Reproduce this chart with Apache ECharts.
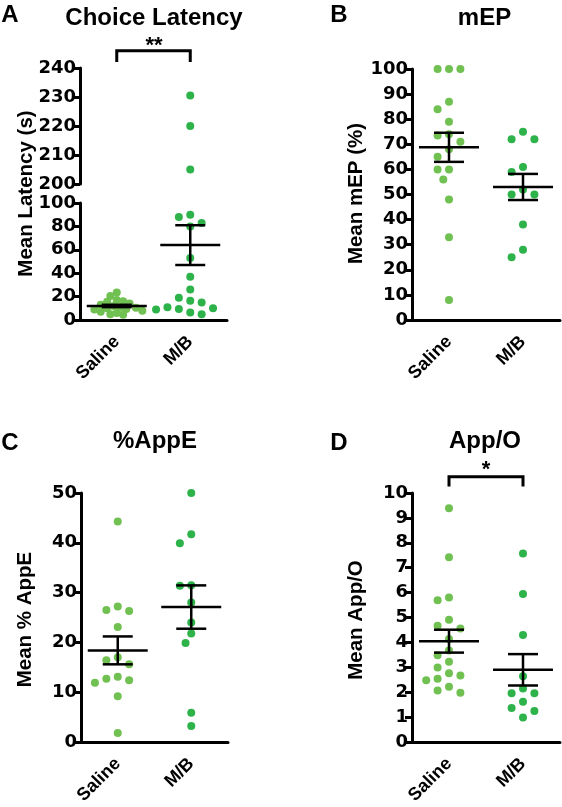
<!DOCTYPE html>
<html><head><meta charset="utf-8">
<script src="https://cdn.jsdelivr.net/npm/echarts@6/dist/echarts.min.js"></script>
<style>html,body{margin:0;padding:0;background:#fff}#c{width:562px;height:807px}</style>
</head><body><div id="c"></div><script>
// ---------- data ----------
const categories = ['Saline', 'M/B'];

// A: Choice Latency (s)
const latencySaline = [23.5, 20.5, 17, 16, 15.5, 14, 13, 12, 11, 10.5, 10, 9.5, 9, 8, 7, 6, 5, 4.5];
const latencyMB = [230.5, 220, 205, 90, 88, 83, 80, 53, 37, 26, 19, 16.5, 15, 10, 9, 5, 6.5, 9.5, 11];
const latencyMean = [12, 64];
const latencySem = [1, 17];
const latencyUpperTicks = [200, 240, 10];
const latencyLowerTicks = [0, 100, 20];

// B: mEP (%)
const mepSaline = [100, 100, 100, 87, 84, 79, 73.5, 74, 71, 68, 65, 60, 60, 56, 48, 33, 8];
const mepMB = [75, 72, 72, 61, 59, 52, 50, 50, 38, 28, 25];
const mepMean = [68.8, 53];
const mepSem = [5.8, 5.2];
const mepTicks = [0, 100, 10];

// C: %AppE
const appeSaline = [44.3, 26.5, 26.3, 27.2, 23.1, 16.4, 15.6, 17.0, 12.7, 11.9, 12.4, 13.1, 9.2, 1.8];
const appeMB = [50, 41.7, 39.9, 31.5, 31.4, 28.0, 24.0, 21.8, 19.9, 5.9, 3.2];
const appeMean = [18.4, 27.1];
const appeSem = [2.8, 4.35];
const appeTicks = [0, 50, 10];

// D: App/O
const appoSaline = [9.39, 7.42, 5.69, 5.8, 4.91, 4.67, 4.56, 4.14, 3.68, 3.48, 3.22, 2.99, 2.76, 2.54, 2.48, 2.67, 2.22, 1.98, 2.07];
const appoMB = [7.57, 5.94, 4.30, 2.64, 2.15, 1.96, 1.96, 1.62, 1.37, 1.25, 0.98];
const appoMean = [4.05, 2.9];
const appoSem = [0.46, 0.63];
const appoTicks = [0, 10, 1];

// ---------- style ----------
const TICK_FONT = 'DejaVu Sans';
const TEXT_FONT = 'Liberation Sans';
const SAL = '#70c152';
const MBC = '#2eb34b';
const LW = 3;

const grids = [
  {left: 80, top: 68, width: 147, height: 116},   // A upper
  {left: 80, top: 203, width: 147, height: 117},  // A lower
  {left: 412, top: 69, width: 148, height: 251},  // B
  {left: 81, top: 493, width: 147, height: 251},  // C
  {left: 412, top: 493, width: 148, height: 251}  // D
];
const yTicks = [latencyUpperTicks, latencyLowerTicks, mepTicks, appeTicks, appoTicks];

const chart = echarts.init(document.getElementById('c'), null, {renderer: 'canvas'});

// beeswarm layout (computed in pixel space, converted back to x units)
function swarm(values, center, gi, D, step) {
  const g = grids[gi], t = yTicks[gi];
  const pxPerY = g.height / (t[1] - t[0]);
  const pxPerX = g.width / 2;
  const sorted = values.slice().sort((a, b) => b - a);
  const placed = [], out = [];
  for (const v of sorted) {
    const py = v * pxPerY;
    for (let k = 0; k < 200; k++) {
      const m = k === 0 ? 0 : (k % 2 === 1 ? -Math.ceil(k / 2) : Math.ceil(k / 2));
      const dx = m * step;
      if (placed.every(p => (p.dx - dx) ** 2 + (p.py - py) ** 2 >= D * D)) {
        placed.push({dx, py});
        out.push([center + dx / pxPerX, v]);
        break;
      }
    }
  }
  return out;
}

const xAxes = [], yAxes = [];
grids.forEach((g, i) => {
  xAxes.push({
    type: 'category', gridIndex: i, data: categories, show: i !== 0,
    boundaryGap: true,
    axisLine: {lineStyle: {color: '#000', width: LW}},
    axisTick: {alignWithLabel: true, length: 7, lineStyle: {color: '#000', width: LW}},
    axisLabel: {rotate: 45, margin: 19, color: '#000', fontFamily: TEXT_FONT, fontWeight: 'bold', fontSize: 18},
    splitLine: {show: false}
  });
  xAxes.push({type: 'value', gridIndex: i, min: 0.5, max: 2.5, show: false});
  const t = yTicks[i];
  yAxes.push({
    type: 'value', gridIndex: i, min: t[0], max: t[1], interval: t[2],
    axisLine: {show: true, lineStyle: {color: '#000', width: LW}},
    axisTick: {show: true, length: 7, lineStyle: {color: '#000', width: LW}},
    axisLabel: {margin: 4, color: '#000', fontFamily: TICK_FONT, fontWeight: 'bold', fontSize: 18},
    splitLine: {show: false}
  });
});

function scatter(gi, data, color) {
  return {
    type: 'scatter', xAxisIndex: gi * 2 + 1, yAxisIndex: gi, data: data,
    symbol: 'circle', symbolSize: 8, itemStyle: {color: color, opacity: 1}, z: 2, silent: true
  };
}
function errorBars(gi, mean, sem) {
  return {
    type: 'custom', xAxisIndex: gi * 2 + 1, yAxisIndex: gi, z: 5, silent: true,
    data: mean.map((m, i) => [i + 1, m, sem[i]]),
    renderItem: function (params, api) {
      const x = api.value(0), m = api.value(1), s = api.value(2);
      const c = api.coord([x, m]), top = api.coord([x, m + s]), bot = api.coord([x, m - s]);
      const st = {stroke: '#000', lineWidth: 2.5};
      return {type: 'group', children: [
        {type: 'line', shape: {x1: c[0] - 30, y1: c[1], x2: c[0] + 30, y2: c[1]}, style: st},
        {type: 'line', shape: {x1: c[0], y1: top[1], x2: c[0], y2: bot[1]}, style: st},
        {type: 'line', shape: {x1: c[0] - 15, y1: top[1], x2: c[0] + 15, y2: top[1]}, style: st},
        {type: 'line', shape: {x1: c[0] - 15, y1: bot[1], x2: c[0] + 15, y2: bot[1]}, style: st}
      ]};
    }
  };
}

const upperMB = latencyMB.filter(v => v > 150);
const lowerMB = latencyMB.filter(v => v <= 150);

const series = [
  scatter(0, swarm(upperMB, 2, 0, 11, 5.7), MBC),
  scatter(1, swarm(latencySaline, 1, 1, 6, 3.2), SAL),
  scatter(1, swarm(lowerMB, 2, 1, 11, 5.7), MBC),
  errorBars(1, latencyMean, latencySem),
  scatter(2, swarm(mepSaline, 1, 2, 11, 5.7), SAL),
  scatter(2, swarm(mepMB, 2, 2, 11, 5.7), MBC),
  errorBars(2, mepMean, mepSem),
  scatter(3, swarm(appeSaline, 1, 3, 11, 5.7), SAL),
  scatter(3, swarm(appeMB, 2, 3, 11, 5.7), MBC),
  errorBars(3, appeMean, appeSem),
  scatter(4, swarm(appoSaline, 1, 4, 11, 5.7), SAL),
  scatter(4, swarm(appoMB, 2, 4, 11, 5.7), MBC),
  errorBars(4, appoMean, appoSem)
];

chart.setOption({
  animation: false,
  backgroundColor: '#fff',
  grid: grids.map(g => Object.assign({containLabel: false}, g)),
  xAxis: xAxes, yAxis: yAxes, series: series
});

// ---------- annotations ----------
function txt(text, x, y, size, rot) {
  return {type: 'text', x: x, y: y, rotation: rot || 0, silent: true,
    style: {text: text, fill: '#000', font: 'bold ' + size + 'px "' + TEXT_FONT + '"', align: 'center', verticalAlign: 'middle'}};
}
function bracket(gi, yTop, yEnd) {
  const x1 = chart.convertToPixel({xAxisIndex: gi * 2 + 1}, 1);
  const x2 = chart.convertToPixel({xAxisIndex: gi * 2 + 1}, 2);
  return {type: 'polyline', silent: true, shape: {points: [[x1, yEnd], [x1, yTop], [x2, yTop], [x2, yEnd]]},
    style: {stroke: '#000', lineWidth: LW, fill: null}};
}
const graphic = [
  txt('A', 10, 15, 24), txt('Choice Latency', 154, 18.4, 24),
  txt('B', 339, 15.7, 24), txt('mEP', 484.5, 18.4, 24),
  txt('C', 10, 443.4, 24), txt('%AppE', 155, 441.7, 24),
  txt('D', 339, 443.4, 24), txt('App/O', 485, 441.7, 24),
  txt('Mean Latency (s)', 26, 193.5, 20.5, Math.PI / 2),
  txt('Mean mEP (%)', 356, 193.5, 20.5, Math.PI / 2),
  txt('Mean % AppE', 25, 619.5, 20.5, Math.PI / 2),
  txt('Mean App/O', 356, 620, 20.5, Math.PI / 2),
  bracket(1, 50.7, 62), txt('**', 154, 46, 22),
  bracket(4, 476.7, 486.5), txt('*', 486, 470, 22)
];
chart.setOption({graphic: graphic});
</script></body></html>
